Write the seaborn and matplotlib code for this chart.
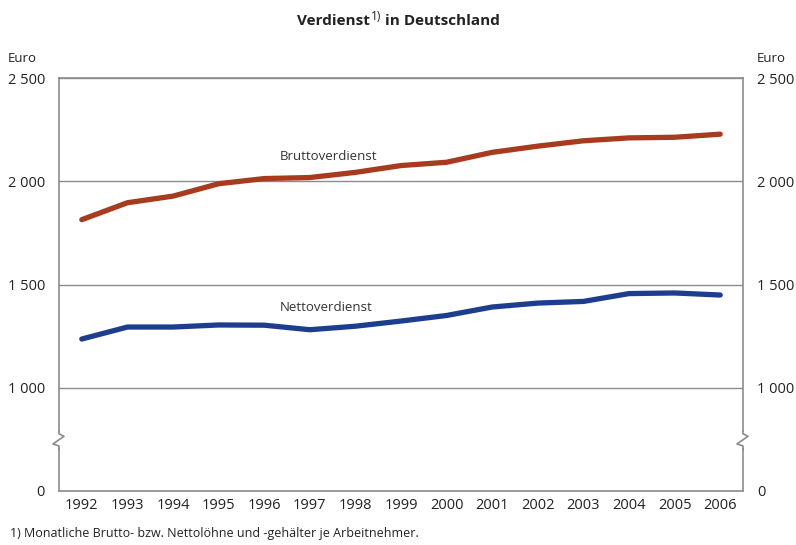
import numpy as np
import pandas as pd
import matplotlib
matplotlib.use("Agg")
import matplotlib.pyplot as plt
import matplotlib.transforms as mtransforms
import seaborn as sns

# ── Daten (Euro je Monat) ─────────────────────────────────────────────────────
years = list(range(1992, 2007))
brutto = [1814, 1896, 1928, 1988, 2013, 2018, 2043, 2076, 2092, 2140, 2170, 2196, 2210, 2213, 2228]
netto = [1236, 1294, 1294, 1304, 1303, 1281, 1298, 1323, 1350, 1391, 1410, 1418, 1456, 1459, 1449]

ytick_pos = [500, 1000, 1500, 2000, 2500]           # 500 = Achsenbruch, wird als "0" beschriftet
ytick_labels = ["0", "1 000", "1 500", "2 000", "2 500"]

RED = "#a83a1e"
BLUE = "#1d3e8e"
GRID = "#8c8c8c"
TXT = "#222222"

df = pd.DataFrame({
    "Jahr": years * 2,
    "Euro": brutto + netto,
    "Reihe": ["Bruttoverdienst"] * len(years) + ["Nettoverdienst"] * len(years),
})

sns.set_theme(style="white")
plt.rcParams["font.family"] = ["Open Sans", "DejaVu Sans"]

fig = plt.figure(figsize=(7.96, 5.45), dpi=100, facecolor="white")
ax = fig.add_axes([59 / 796, 1 - 491 / 545, (743 - 59) / 796, (491 - 78) / 545])

sns.lineplot(data=df, x="Jahr", y="Euro", hue="Reihe",
             palette={"Bruttoverdienst": RED, "Nettoverdienst": BLUE},
             linewidth=3.8, legend=False, ax=ax, zorder=3)

ax.set_xlim(years[0] - 0.5, years[-1] + 0.5)
ax.set_ylim(500, 2500)
ax.set_xlabel("")
ax.set_ylabel("")

# x-Achse: Jahre mittig, Striche an den Grenzen
ax.set_xticks(years)
ax.set_xticklabels([str(y) for y in years])
ax.set_xticks(np.arange(years[0] - 0.5, years[-1] + 1), minor=True)
ax.tick_params(axis="x", which="major", length=0, pad=5, labelsize=10.5, colors=TXT)
ax.tick_params(axis="x", which="minor", length=4, width=1, color=GRID, direction="out")

# y-Achse links und rechts beschriftet
ax.set_yticks(ytick_pos)
ax.set_yticklabels(ytick_labels)
ax.tick_params(axis="y", length=0, pad=10, labelsize=10.5, colors=TXT,
               labelleft=True, labelright=True)

ax.grid(axis="y", color=GRID, linewidth=1)
for sp in ax.spines.values():
    sp.set_color(GRID)
    sp.set_linewidth(1.2)

# Achsenbruch-Zeichen links und rechts (Z-Form)
trans = mtransforms.blended_transform_factory(ax.transAxes, ax.transData)
for x0 in (0.0, 1.0):
    ax.plot([x0, x0], [720, 775], color="white", linewidth=3, transform=trans,
            clip_on=False, zorder=5)
    ax.plot([x0, x0, x0 + 0.0073, x0 - 0.0088, x0, x0],
            [790, 777, 765, 728, 718, 700],
            color=GRID, linewidth=1.2, transform=trans, clip_on=False, zorder=6)

# Reihenbeschriftung
ax.text(1997.4, 2120, "Bruttoverdienst", ha="center", va="center", fontsize=9.5, color="#333333")
ax.text(1997.35, 1390, "Nettoverdienst", ha="center", va="center", fontsize=9.5, color="#333333")

# Titel mit hochgestellter Fußnote
t1 = fig.text(297 / 796, 1 - 28 / 545, "Verdienst", ha="left", va="bottom",
              fontsize=11, fontweight="bold", color=TXT)
t2 = ax.annotate("1)", xy=(1, 0), xycoords=t1, xytext=(0.5, 3.5), textcoords="offset points",
                 ha="left", va="bottom", fontsize=8.5, color=TXT, annotation_clip=False)
ax.annotate(" in Deutschland", xy=(1, 0), xycoords=(t2, t1), xytext=(0, 0),
            textcoords="offset points", ha="left", va="bottom",
            fontsize=11, fontweight="bold", color=TXT, annotation_clip=False)

# Einheiten, Fußnote
fig.text(8 / 796, 1 - 58 / 545, "Euro", ha="left", va="center", fontsize=9.5, color=TXT)
fig.text(786 / 796, 1 - 58 / 545, "Euro", ha="right", va="center", fontsize=9.5, color=TXT)
fig.text(10 / 796, 1 - 533 / 545, "1) Monatliche Brutto- bzw. Nettolöhne und -gehälter je Arbeitnehmer.",
         ha="left", va="center", fontsize=9, color=TXT)

fig.savefig("out.png", dpi=100, facecolor="white")
